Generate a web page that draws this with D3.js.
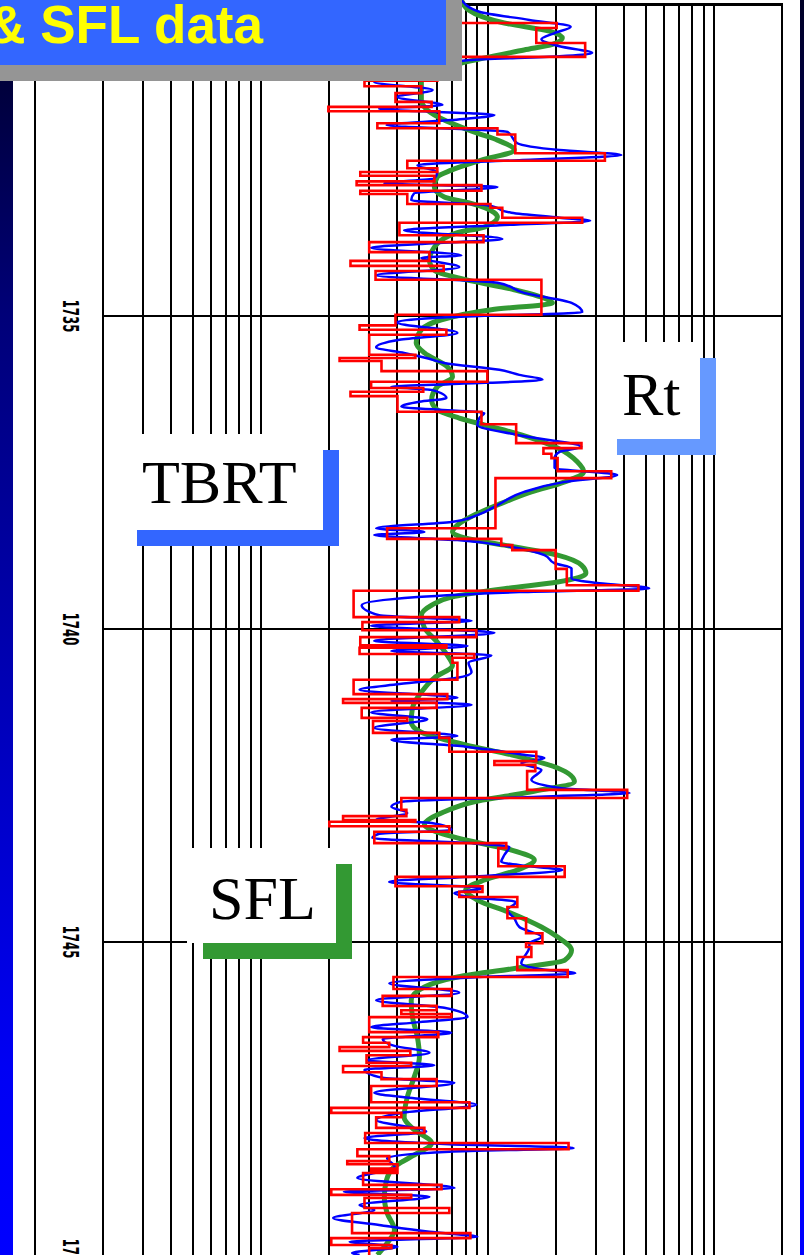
<!DOCTYPE html>
<html>
<head>
<meta charset="utf-8">
<script src="https://cdnjs.cloudflare.com/ajax/libs/d3/7.8.5/d3.min.js"></script>
<style>
  body { margin: 0; background: #ffffff; }
  svg { display: block; }
</style>
</head>
<body>
<div id="logPlot"></div>
<script>
const DEPTH_LABELS = ["1735", "1740", "1745", "1750"];
const DEPTH_LINES = [1730, 1735, 1740, 1745];
const GRID_DECADES = [1, 10, 100];
const GRID_MULTIPLES = [1, 1.5, 2, 2.5, 3, 3.5, 4, 4.5, 5];
const TITLE_TEXT = "& SFL data";
const LEGEND_NAMES = ["Rt", "TBRT", "SFL"];
const LEGEND_COLOURS = ["#6699ff", "#3366ff", "#339933"];

// SFL (green), depth in m and resistivity in ohm.m
const SFL_DEPTH = [1729.95, 1730.11, 1730.32, 1730.45, 1730.56, 1730.66, 1730.75, 1730.96, 1731.10, 1731.26,
  1731.55, 1731.71, 1731.87, 1732.08, 1732.19, 1732.35, 1732.51, 1732.67, 1732.78, 1732.94,
  1733.10, 1733.19, 1733.35, 1733.42, 1733.58, 1733.67, 1733.90, 1734.11, 1734.27, 1734.42,
  1734.58, 1734.75, 1734.79, 1734.90, 1735.06, 1735.22, 1735.43, 1735.59, 1735.81, 1735.97,
  1736.13, 1736.34, 1736.50, 1736.63, 1736.74, 1736.90, 1737.11, 1737.33, 1737.49, 1737.65,
  1737.81, 1738.02, 1738.18, 1738.34, 1738.45, 1738.55, 1738.66, 1738.82, 1738.98, 1739.11,
  1739.25, 1739.35, 1739.49, 1739.62, 1739.78, 1739.98, 1740.21, 1740.42, 1740.58, 1740.78,
  1741.01, 1741.26, 1741.49, 1741.65, 1741.85, 1742.01, 1742.22, 1742.44, 1742.60, 1742.76,
  1742.92, 1743.13, 1743.21, 1743.37, 1743.53, 1743.69, 1743.85, 1744.01, 1744.17, 1744.33,
  1744.54, 1744.76, 1744.92, 1745.13, 1745.29, 1745.40, 1745.56, 1745.72, 1745.93, 1746.20,
  1746.52, 1746.84, 1747.16, 1747.48, 1747.80, 1748.00, 1748.21, 1748.43, 1748.59, 1748.80,
  1749.07, 1749.33, 1749.60, 1749.81, 1750.00];
const SFL_VALUE = [38.3, 41.2, 59.3, 93.8, 107, 96.8, 72.5, 38.3, 27.7, 25.5,
  25.5, 27.1, 32.2, 45.1, 55.3, 65.6, 47.0, 34.6, 30.0, 29.1,
  32.2, 41.2, 53.6, 55.3, 48.4, 36.8, 29.1, 27.7, 29.1, 40.0,
  65.6, 93.8, 96.8, 52.0, 31.3, 25.5, 24.2, 26.3, 33.2, 35.0,
  30.0, 28.3, 30.0, 37.5, 48.4, 70.5, 102, 124.6, 133, 109.6,
  78.1, 55.3, 43.7, 36.8, 35.0, 40.0, 59.3, 102, 130, 136,
  102, 61.2, 34.6, 28.3, 25.5, 26.3, 30.0, 33.2, 35.0, 29.1,
  25.5, 23.3, 23.0, 25.5, 40.0, 63.7, 102, 121, 78.1, 43.7,
  32.2, 26.3, 28.3, 40.0, 63.7, 80.5, 67.7, 48.4, 40.0, 45.1,
  63.7, 86.5, 102, 117.5, 109.6, 72.5, 36.8, 26.3, 23.0, 23.3,
  24.5, 25.0, 23.7, 22.1, 21.4, 23.7, 28.3, 23.0, 19.4, 17.9,
  17.5, 18.0, 19.4, 18.0, 16.3];

// Rt (blue)
const RT_DEPTH = [1729.95, 1730.14, 1730.27, 1730.38, 1730.48, 1730.58, 1730.69, 1730.80, 1730.85, 1730.91,
  1731.07, 1731.26, 1731.39, 1731.50, 1731.63, 1731.69, 1731.79, 1731.87, 1731.95, 1732.06,
  1732.24, 1732.35, 1732.43, 1732.51, 1732.59, 1732.70, 1732.80, 1732.88, 1732.94, 1733.04,
  1733.15, 1733.23, 1733.35, 1733.43, 1733.48, 1733.55, 1733.63, 1733.77, 1733.85, 1733.91,
  1734.03, 1734.07, 1734.22, 1734.35, 1734.47, 1734.63, 1734.79, 1734.94, 1735.00, 1735.03,
  1735.10, 1735.27, 1735.38, 1735.50, 1735.59, 1735.67, 1735.75, 1735.86, 1735.94, 1736.02,
  1736.09, 1736.13, 1736.18, 1736.31, 1736.37, 1736.45, 1736.55, 1736.63, 1736.74, 1736.90,
  1737.09, 1737.17, 1737.27, 1737.43, 1737.54, 1737.65, 1737.81, 1738.02, 1738.18, 1738.29,
  1738.39, 1738.45, 1738.50, 1738.58, 1738.69, 1738.82, 1738.95, 1739.03, 1739.19, 1739.27,
  1739.35, 1739.41, 1739.49, 1739.62, 1739.78, 1739.87, 1739.95, 1740.06, 1740.19, 1740.27,
  1740.35, 1740.42, 1740.54, 1740.69, 1740.78, 1740.88, 1740.97, 1741.10, 1741.15, 1741.21,
  1741.33, 1741.44, 1741.58, 1741.71, 1741.77, 1741.88, 1742.01, 1742.06, 1742.14, 1742.25,
  1742.41, 1742.54, 1742.62, 1742.68, 1742.76, 1742.84, 1742.94, 1743.05, 1743.10, 1743.21,
  1743.27, 1743.34, 1743.42, 1743.48, 1743.61, 1743.72, 1743.79, 1743.85, 1743.95, 1744.04,
  1744.14, 1744.22, 1744.28, 1744.36, 1744.49, 1744.62, 1744.76, 1744.92, 1745.02, 1745.08,
  1745.34, 1745.43, 1745.50, 1745.56, 1745.66, 1745.81, 1745.93, 1746.05, 1746.20, 1746.28,
  1746.36, 1746.45, 1746.55, 1746.66, 1746.77, 1746.89, 1746.97, 1747.04, 1747.17, 1747.25,
  1747.41, 1747.48, 1747.60, 1747.73, 1747.84, 1748.03, 1748.13, 1748.23, 1748.29, 1748.35,
  1748.45, 1748.59, 1748.67, 1748.77, 1748.93, 1748.99, 1749.07, 1749.20, 1749.28, 1749.41,
  1749.52, 1749.63, 1749.71, 1749.79, 1749.87, 1749.97, 1750.00];
const RT_VALUE = [38.3, 46.0, 76.5, 116.5, 98.9, 86.5, 104, 145, 104, 41.6,
  25.0, 15.8, 28.6, 20.0, 31.6, 16.6, 53.6, 34.6, 17.9, 61.2,
  67.7, 104, 195, 69.1, 24.5, 30.0, 29.1, 17.5, 55.3, 23.7,
  23.0, 49.9, 63.7, 104, 142, 56.4, 21.4, 58.1, 25.0, 15.3,
  38.3, 25.5, 37.5, 16.1, 55.3, 72.5, 117.5, 131, 46.0, 29.1,
  19.8, 36.8, 20.4, 16.1, 21.4, 26.8, 32.2, 56.4, 69.1, 87.4,
  33.9, 18.8, 28.3, 32.9, 25.0, 20.8, 48.4, 46.0, 45.1, 67.7,
  130, 104, 98.9, 98.9, 187, 109.6, 72.5, 55.3, 45.1, 34.6,
  16.1, 26.3, 15.8, 36.8, 63.7, 89.2, 98.9, 117.5, 117.5, 156,
  259, 69.1, 24.5, 13.9, 16.6, 42.5, 15.3, 53.6, 15.8, 40.8,
  18.8, 52.0, 41.2, 42.5, 36.8, 20.4, 13.6, 36.8, 18.8, 42.5,
  15.3, 27.1, 15.8, 36.8, 18.8, 40.0, 72.5, 89.2, 70.5, 86.5,
  78.1, 104, 212, 84.7, 20.8, 18.8, 22.1, 16.1, 28.3, 34.6,
  16.6, 15.5, 41.6, 62.4, 59.3, 57.5, 76.5, 107, 46.0, 18.4,
  47.0, 35.7, 41.6, 66.9, 61.2, 65.6, 69.1, 86.5, 76.5, 76.5,
  70.5, 84.7, 122, 46.0, 18.4, 37.5, 16.1, 32.2, 40.8, 25.0,
  15.3, 34.6, 17.2, 19.4, 27.7, 14.7, 29.1, 14.3, 17.2, 35.7,
  15.8, 21.4, 44.6, 20.8, 16.1, 26.8, 14.3, 33.9, 120, 33.9,
  18.0, 19.4, 16.6, 13.3, 35.7, 11.6, 27.7, 13.6, 15.8, 10.4,
  16.6, 27.7, 45.1, 12.3, 20.0, 12.6, 13.6];

// TBRT (red), top depth of each layer and its value
const TBRT_DEPTH = [1729.95, 1730.32, 1730.40, 1730.64, 1730.86, 1731.24, 1731.33, 1731.44, 1731.58, 1731.66,
  1731.73, 1731.92, 1732.00, 1732.10, 1732.40, 1732.52, 1732.64, 1732.70, 1732.76, 1732.85,
  1732.91, 1733.00, 1733.05, 1733.21, 1733.27, 1733.43, 1733.51, 1733.71, 1733.82, 1733.98,
  1734.12, 1734.20, 1734.28, 1734.42, 1734.98, 1735.15, 1735.22, 1735.30, 1735.62, 1735.67,
  1735.72, 1735.88, 1736.05, 1736.15, 1736.21, 1736.28, 1736.53, 1736.73, 1737.03, 1737.11,
  1737.20, 1737.27, 1737.48, 1737.59, 1738.39, 1738.56, 1738.66, 1738.74, 1739.04, 1739.30,
  1739.39, 1739.81, 1739.89, 1740.02, 1740.13, 1740.26, 1740.30, 1740.40, 1740.46, 1740.54,
  1740.81, 1741.04, 1741.12, 1741.18, 1741.26, 1741.42, 1741.47, 1741.66, 1741.74, 1741.96,
  1742.11, 1742.17, 1742.27, 1742.57, 1742.70, 1742.89, 1742.99, 1743.05, 1743.08, 1743.15,
  1743.24, 1743.42, 1743.50, 1743.79, 1743.96, 1744.11, 1744.20, 1744.28, 1744.44, 1744.62,
  1744.86, 1745.02, 1745.08, 1745.24, 1745.45, 1745.56, 1745.75, 1745.86, 1746.02, 1746.09,
  1746.15, 1746.20, 1746.44, 1746.52, 1746.61, 1746.68, 1746.74, 1746.81, 1746.93, 1746.98,
  1747.08, 1747.19, 1747.30, 1747.56, 1747.65, 1747.73, 1747.80, 1747.97, 1748.05, 1748.21,
  1748.31, 1748.42, 1748.50, 1748.55, 1748.62, 1748.65, 1748.69, 1748.88, 1748.95, 1749.04,
  1749.09, 1749.25, 1749.33, 1749.65, 1749.73, 1749.84, 1749.89, 1750.05];
const TBRT_VALUE = [32, 101, 82.1, 135, 30, 14.3, 25.5, 19.6, 28.3, 9.9,
  30.6, 16.3, 55.3, 66.3, 165, 22.1, 30.0, 13.7, 29.1, 13.2,
  47.0, 13.7, 22.1, 51.5, 58.1, 131, 20.4, 48.0, 15.0, 27.7,
  12.4, 32.0, 16.0, 86.5, 19.6, 13.6, 32.9, 15.0, 24.0, 11.1,
  17.0, 49.9, 15.3, 26.0, 12.4, 20.0, 47.0, 66.9, 130, 88.3,
  95.8, 102, 176, 54.2, 18.0, 57.5, 64.3, 100, 112, 232,
  12.8, 37.5, 14.0, 44.6, 13.7, 32.9, 13.6, 43.7, 35.0, 36.8,
  12.8, 33.2, 11.5, 29.8, 13.9, 22.1, 15.6, 30.6, 33.9, 82.1,
  53.6, 81.3, 74.8, 207, 20.8, 21.9, 11.5, 24.0, 10.0, 33.9,
  15.8, 60.5, 55.8, 109.6, 19.6, 47.5, 37.5, 67.7, 61.2, 74.0,
  87.4, 74.0, 78.1, 67.7, 113, 19.2, 34.6, 17.2, 29.8, 20.8,
  34.6, 15.0, 30.3, 14.1, 18.4, 11.1, 22.8, 14.6, 23.0, 11.5,
  17.0, 29.8, 15.3, 41.6, 10.2, 20.8, 16.1, 26.3, 14.4, 114,
  13.3, 18.4, 12.0, 20.0, 15.3, 20.0, 14.1, 31.3, 10.2, 23.0,
  14.3, 33.9, 12.6, 42.0, 10.2, 18.8, 15.0, 15.0];

function plotLog() {
  var width = 804, height = 1255;
  var svg = d3.select("#logPlot")
    .append("svg")
      .attr("width", width)
      .attr("height", height);

  // blue side bars
  var grad = svg.append("defs").append("linearGradient")
      .attr("id", "sideBar")
      .attr("x1", 0).attr("y1", 0).attr("x2", 0).attr("y2", 1);
  grad.append("stop").attr("offset", "0").attr("stop-color", "#000026");
  grad.append("stop").attr("offset", "0.25").attr("stop-color", "#000078");
  grad.append("stop").attr("offset", "0.85").attr("stop-color", "#0000f4");
  grad.append("stop").attr("offset", "1").attr("stop-color", "#0000ff");
  svg.append("rect").attr("x", 0).attr("y", 0).attr("width", 13).attr("height", height)
      .attr("fill", "url(#sideBar)");
  svg.append("rect").attr("x", 800).attr("y", 0).attr("width", 4).attr("height", height)
      .attr("fill", "url(#sideBar)");

  var x = d3.scaleLog().domain([1, 1000]).range([103, 782]);
  var y = d3.scaleLinear().domain([1730, 1750]).range([3, 1255]);

  var gridValues = [];
  GRID_DECADES.forEach(function(b) {
    GRID_MULTIPLES.forEach(function(m) { gridValues.push(b * m); });
  });
  gridValues.push(1000);

  var grid = svg.append("g")
      .attr("stroke", "#000")
      .attr("stroke-width", 2)
      .attr("shape-rendering", "crispEdges");
  grid.selectAll("line.v")
      .data(gridValues)
      .enter()
      .append("line")
        .attr("x1", function(d) { return Math.round(x(d)); })
        .attr("x2", function(d) { return Math.round(x(d)); })
        .attr("y1", y(1730))
        .attr("y2", height);
  // depth track border
  grid.append("line")
      .attr("x1", 35).attr("x2", 35)
      .attr("y1", y(1730)).attr("y2", height);
  grid.append("line")
      .attr("x1", 35).attr("x2", Math.round(x(1000)) + 1)
      .attr("y1", 4).attr("y2", 4)
      .attr("stroke-width", 3);
  grid.selectAll("line.h")
      .data(DEPTH_LINES.slice(1))
      .enter()
      .append("line")
        .attr("x1", x(1))
        .attr("x2", x(1000))
        .attr("y1", function(d) { return Math.round(y(d)); })
        .attr("y2", function(d) { return Math.round(y(d)); });

  svg.selectAll("text.depth")
      .data(DEPTH_LABELS)
      .enter()
      .append("text")
        .attr("class", "depth")
        .attr("transform", function(d) { return "translate(63," + y(+d) + ") rotate(90) scale(1,1.6)"; })
        .attr("text-anchor", "middle")
        .attr("font-family", "'Liberation Sans Narrow', 'DejaVu Sans Condensed', sans-serif")
        .attr("font-weight", "bold")
        .attr("font-size", 13)
        .attr("fill", "#000")
        .text(function(d) { return d; });

  // curves
  var smooth = d3.line()
      .x(function(d) { return x(d[1]); })
      .y(function(d) { return y(d[0]); })
      .curve(d3.curveMonotoneY);
  var step = d3.line()
      .x(function(d) { return x(d[1]); })
      .y(function(d) { return y(d[0]); })
      .curve(d3.curveStepBefore);

  svg.append("path")
      .attr("d", smooth(d3.zip(SFL_DEPTH, SFL_VALUE)))
      .attr("fill", "none")
      .attr("stroke", "#339933")
      .attr("stroke-width", 5);
  svg.append("path")
      .attr("d", smooth(d3.zip(RT_DEPTH, RT_VALUE)))
      .attr("fill", "none")
      .attr("stroke", "#0000ff")
      .attr("stroke-width", 2.5);
  svg.append("path")
      .attr("d", step(d3.zip(TBRT_DEPTH, TBRT_VALUE)))
      .attr("fill", "none")
      .attr("stroke", "#ff0000")
      .attr("stroke-width", 2.6);

  // legend labels with shadow
  var boxes = [
    {x: 601, y: 342, w: 99, h: 97, tx: 622, ty: 415},
    {x: 121, y: 434, w: 202, h: 96, tx: 142, ty: 503},
    {x: 187, y: 848, w: 149, h: 95, tx: 209, ty: 919}
  ];
  LEGEND_NAMES.forEach(function(name, i) {
    var b = boxes[i];
    svg.append("rect")
        .attr("x", b.x + 16).attr("y", b.y + 16)
        .attr("width", b.w).attr("height", b.h)
        .attr("fill", LEGEND_COLOURS[i]);
    svg.append("rect")
        .attr("x", b.x).attr("y", b.y)
        .attr("width", b.w).attr("height", b.h)
        .attr("fill", "#fff");
    svg.append("text")
        .attr("x", b.tx).attr("y", b.ty)
        .attr("font-family", "'Liberation Serif', 'Times New Roman', serif")
        .attr("font-size", 62)
        .attr("fill", "#000")
        .text(name);
  });

  // title box
  svg.append("rect").attr("x", 0).attr("y", 0).attr("width", 462).attr("height", 81)
      .attr("fill", "#959595");
  svg.append("rect").attr("x", 0).attr("y", 0).attr("width", 446).attr("height", 65)
      .attr("fill", "#3366ff");
  svg.append("text")
      .attr("x", 263).attr("y", 43)
      .attr("text-anchor", "end")
      .attr("font-family", "'Liberation Sans', Arial, sans-serif")
      .attr("font-weight", "bold")
      .attr("font-size", 53)
      .attr("fill", "#ffff00")
      .text(TITLE_TEXT);
}

plotLog();
</script>
</body>
</html>
